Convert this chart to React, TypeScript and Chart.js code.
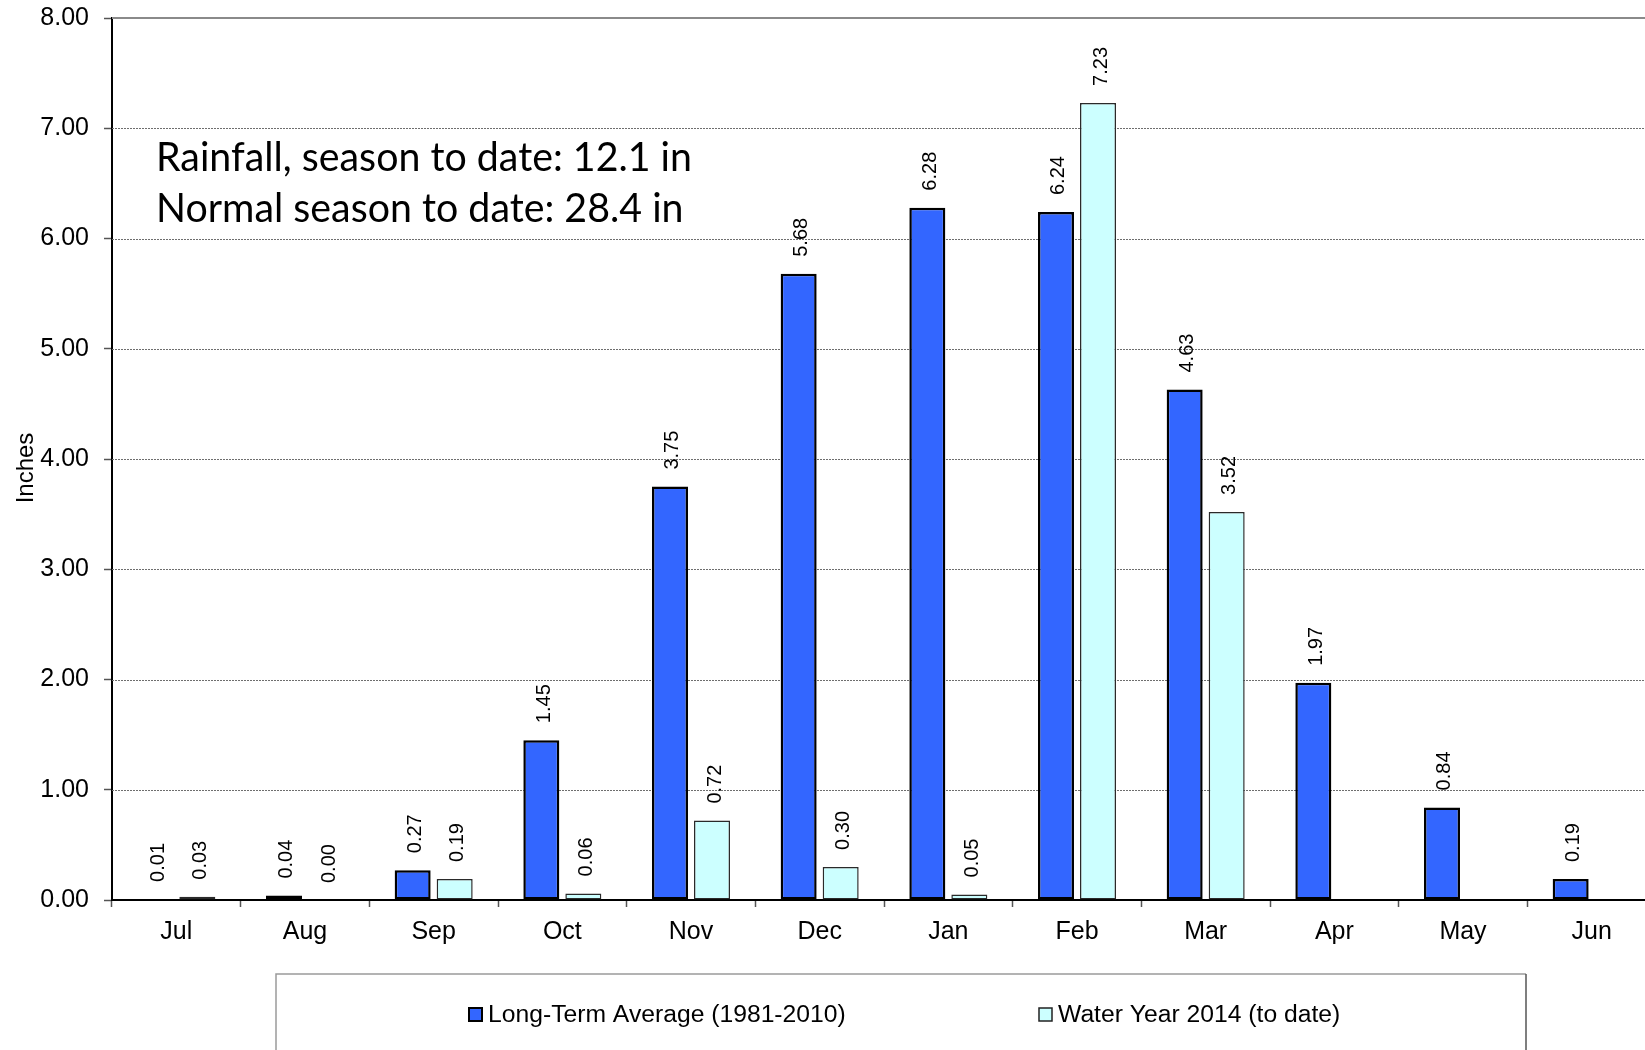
import React, { useEffect, useRef } from 'react';
import { Chart, registerables } from 'chart.js';

Chart.register(...registerables);

// Monthly rainfall, water year July–June
const months = ['Jul', 'Aug', 'Sep', 'Oct', 'Nov', 'Dec', 'Jan', 'Feb', 'Mar', 'Apr', 'May', 'Jun'];
const longTermAverage = [0.01, 0.04, 0.27, 1.45, 3.75, 5.68, 6.28, 6.24, 4.63, 1.97, 0.84, 0.19];
const waterYear2014: (number | null)[] = [0.03, 0.0, 0.19, 0.06, 0.72, 0.3, 0.05, 7.23, 3.52, null, null, null];
const seriesLabels = ['Long-Term Average (1981-2010)', 'Water Year 2014 (to date)'];
const seriesColors = ['#3366FF', '#CCFFFF'];
const seriesBorders = ['#000000', '#2a2a2a'];
const summaryLines = ['Rainfall, season to date: 12.1 in', 'Normal season to date: 28.4 in'];
const yAxisTitle = 'Inches';
const yMin = 0;
const yMax = 8;
const yStep = 1;

const FONT = '"Liberation Sans", Arial, sans-serif';

const overlayPlugin = {
  id: 'rainOverlay',
  beforeDatasetsDraw(chart: any) {
    const { ctx, chartArea: a } = chart;
    const y = chart.scales.y;
    ctx.save();
    // dotted horizontal gridlines
    ctx.strokeStyle = '#6e6e6e';
    ctx.lineWidth = 1;
    ctx.setLineDash([2, 1]);
    for (let v = yMin + yStep; v < yMax; v += yStep) {
      const py = Math.round(y.getPixelForValue(v)) + 0.5;
      ctx.beginPath();
      ctx.moveTo(a.left, py);
      ctx.lineTo(a.right, py);
      ctx.stroke();
    }
    ctx.setLineDash([]);
    // plot-area top border
    ctx.strokeStyle = '#8a8a8a';
    ctx.lineWidth = 2;
    const top = y.getPixelForValue(yMax);
    ctx.beginPath();
    ctx.moveTo(a.left, top);
    ctx.lineTo(a.right, top);
    ctx.stroke();
    ctx.restore();
  },
  afterDatasetsDraw(chart: any) {
    const { ctx } = chart;
    ctx.save();
    ctx.font = `20px ${FONT}`;
    ctx.fillStyle = '#000';
    ctx.textAlign = 'left';
    ctx.textBaseline = 'alphabetic';
    chart.data.datasets.forEach((ds: any, i: number) => {
      const meta = chart.getDatasetMeta(i);
      meta.data.forEach((bar: any, j: number) => {
        const v = ds.data[j];
        if (v == null) return;
        const { x, y } = bar.getProps(['x', 'y'], true);
        ctx.save();
        ctx.translate(x + 8.5, y - 17);
        ctx.rotate(-Math.PI / 2);
        ctx.fillText(Number(v).toFixed(2), 0, 0);
        ctx.restore();
      });
    });
    ctx.restore();
  },
  afterDraw(chart: any) {
    const { ctx } = chart;
    ctx.save();

    // season summary text
    ctx.fillStyle = '#000';
    ctx.font = '41px Lato, "Open Sans", sans-serif';
    ctx.textAlign = 'left';
    ctx.textBaseline = 'alphabetic';
    const natural = ctx.measureText(summaryLines[0]).width;
    const sx = 536 / natural;
    ctx.save();
    ctx.translate(156, 0);
    ctx.scale(sx, 1);
    ctx.fillText(summaryLines[0], 0, 171);
    ctx.fillText(summaryLines[1], 0, 222);
    ctx.restore();

    // y-axis title
    ctx.save();
    ctx.font = `24px ${FONT}`;
    ctx.translate(33, 468);
    ctx.rotate(-Math.PI / 2);
    ctx.textAlign = 'center';
    ctx.fillText(yAxisTitle, 0, 0);
    ctx.restore();

    // legend box
    const bx = 276;
    const by = 974;
    const br = 1526;
    const bb = 1070;
    ctx.lineWidth = 1.5;
    ctx.strokeStyle = '#9a9a9a';
    ctx.beginPath();
    ctx.moveTo(bx, bb);
    ctx.lineTo(bx, by);
    ctx.lineTo(br, by);
    ctx.stroke();
    ctx.strokeStyle = '#555';
    ctx.beginPath();
    ctx.moveTo(br, by);
    ctx.lineTo(br, bb);
    ctx.stroke();

    const itemX = [469, 1039];
    ctx.font = `24.7px ${FONT}`;
    ctx.textBaseline = 'middle';
    chart.data.datasets.forEach((ds: any, i: number) => {
      const sxp = itemX[i];
      ctx.fillStyle = ds.backgroundColor;
      ctx.fillRect(sxp, 1008, 13, 13);
      ctx.strokeStyle = i === 0 ? '#000' : '#222';
      ctx.lineWidth = i === 0 ? 2 : 1.5;
      ctx.strokeRect(sxp, 1008, 13, 13);
      ctx.fillStyle = '#000';
      ctx.fillText(ds.label, sxp + 19, 1015);
    });

    ctx.restore();
  },
};

export default function App() {
  const canvasRef = useRef<HTMLCanvasElement | null>(null);

  useEffect(() => {
    const canvas = canvasRef.current;
    if (!canvas) return;
    const chart = new Chart(canvas, {
      type: 'bar',
      data: {
        labels: months,
        datasets: [
          {
            label: seriesLabels[0],
            data: longTermAverage,
            backgroundColor: seriesColors[0],
            borderColor: seriesBorders[0],
            borderWidth: 2.5,
            borderSkipped: false,
            categoryPercentage: 0.653,
            barPercentage: 0.857,
          },
          {
            label: seriesLabels[1],
            data: waterYear2014,
            backgroundColor: seriesColors[1],
            borderColor: seriesBorders[1],
            borderWidth: 1.5,
            borderSkipped: false,
            categoryPercentage: 0.653,
            barPercentage: 0.857,
          },
        ],
      },
      options: {
        responsive: false,
        animation: false,
        devicePixelRatio: 1,
        layout: { padding: { left: 0, right: 4, top: 18, bottom: 0 } },
        plugins: {
          legend: { display: false },
          tooltip: { enabled: false },
        },
        scales: {
          x: {
            grid: {
              display: true,
              drawOnChartArea: false,
              drawTicks: true,
              tickLength: 7,
              tickColor: '#555',
              tickWidth: 1.5,
              offset: true,
            },
            border: { display: true, color: '#000', width: 2 },
            ticks: {
              color: '#000',
              font: { family: FONT, size: 25 },
              padding: 10,
              maxRotation: 0,
              autoSkip: false,
            },
            afterFit: (s: any) => {
              s.height = 150;
              s.paddingLeft = 0;
              s.paddingRight = 0;
            },
          },
          y: {
            min: yMin,
            max: yMax,
            ticks: {
              stepSize: yStep,
              color: '#000',
              font: { family: FONT, size: 25 },
              padding: 15,
              callback: (v: any) => Number(v).toFixed(2),
            },
            grid: {
              drawOnChartArea: false,
              drawTicks: true,
              tickLength: 8,
              tickColor: '#555',
              tickWidth: 1.5,
            },
            border: { display: true, color: '#000', width: 2 },
            afterFit: (s: any) => {
              s.width = 112;
              s.paddingTop = 0;
              s.paddingBottom = 0;
            },
          },
        },
      } as any,
      plugins: [overlayPlugin],
    });
    return () => chart.destroy();
  }, []);

  return (
    <div
      style={{
        position: 'fixed',
        left: 0,
        top: 0,
        width: 1645,
        height: 1050,
        overflow: 'hidden',
        background: '#fff',
      }}
    >
      <canvas ref={canvasRef} width={1660} height={1050} style={{ display: 'block' }} />
    </div>
  );
}
